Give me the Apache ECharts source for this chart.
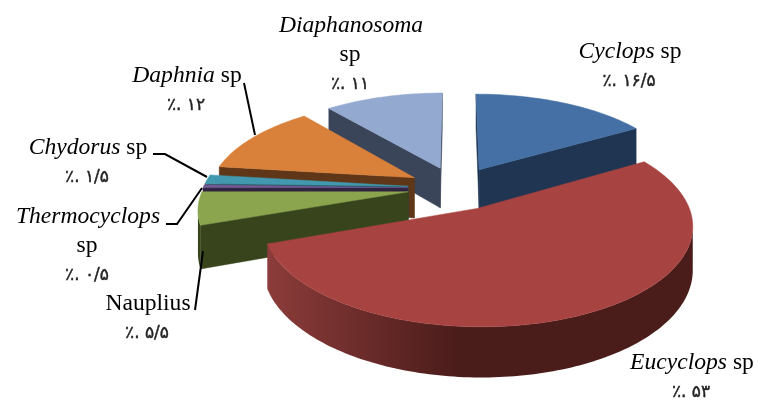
<!DOCTYPE html>
<html><head><meta charset="utf-8">
<style>html,body{margin:0;padding:0;background:#fff}#c{width:758px;height:402px}</style>
<script src="https://cdn.jsdelivr.net/npm/echarts@6/dist/echarts.min.js"></script>
</head><body><div id="c"></div>
<script>
const species = ['Cyclops','Eucyclops','Nauplius','Thermocyclops','Chydorus','Daphnia','Diaphanosoma'];
const percent = [16.5,53,5.5,0.5,1.5,12,11];
const percentText = ['٪. ۱۶/۵','٪. ۵۳','٪. ۵/۵','٪. ۰/۵','٪. ۱/۵','٪. ۱۲','٪. ۱۱'];

// styling and projection (separate from the data)
const topColors  = ['#4570a5','#a74341','#8aa54e','#71588f','#4198af','#d9813a','#93a9cf'];
const wallColors = ['#1f3552','#4a1c1a','#37441c','#2f2340','#235a68','#5f3718','#3a4559'];
const wallLight  = ['#1f3552','#8c3c3a','#37441c','#2f2340','#235a68','#5f3718','#3a4559'];
const drawOrder  = [6,0,5,4,3,2,1];
const P = {cx:456, cy:188, a:205, b:92.7, p:0.157, e:0.235, d:41};

const total = percent.reduce((s,v)=>s+v,0);
let acc = 0;
const slices = percent.map((v,i)=>{const s=acc/total*2*Math.PI; acc+=v; return {i,s,t:acc/total*2*Math.PI};});

function project(u,v,down){
  const s = 1/(1-P.p*v);
  return [P.cx+P.a*u*s, P.cy+P.b*v*s+(down?P.d*s:0)];
}
function area(pts){let A=0;pts.forEach((q,k)=>{const r=pts[(k+1)%pts.length];A+=q[0]*r[1]-r[0]*q[1];});return A/2;}

function renderItem(params){
  const sl = slices[drawOrder[params.dataIndex]];
  const mid=(sl.s+sl.t)/2, ox=P.e*Math.sin(mid), oy=-P.e*Math.cos(mid);
  const at=(th,r)=>[ox+r*Math.sin(th), oy-r*Math.cos(th)];
  const top=at(0,0);
  const n=Math.max(2,Math.ceil((sl.t-sl.s)/0.02));
  const arc=[];for(let k=0;k<=n;k++)arc.push(at(sl.s+(sl.t-sl.s)*k/n,1));
  const children=[];
  const poly=(points,fill)=>children.push({type:'polygon',shape:{points},style:{fill,stroke:fill,lineWidth:0.5}});
  const wall=topColors[sl.i];
  // radial faces, culled by screen orientation
  const A=arc[0],B=arc[n];
  const q1=[project(top[0],top[1]),project(A[0],A[1]),project(A[0],A[1],1),project(top[0],top[1],1)];
  const q2=[project(B[0],B[1]),project(top[0],top[1]),project(top[0],top[1],1),project(B[0],B[1],1)];
  if(area(q1)<0)poly(q1,wallColors[sl.i]);
  if(area(q2)<0)poly(q2,wallColors[sl.i]);
  // outer wall: visible runs only
  let run=[];
  const flush=()=>{
    if(!run.length)return;
    const up=run.map(c=>project(c[0],c[1]));
    const dn=run.map(c=>project(c[0],c[1],1)).reverse();
    const fill=new echarts.graphic.LinearGradient(0,0,1,0,[
      {offset:0,color:wallLight[sl.i]},{offset:0.45,color:wallColors[sl.i]},{offset:1,color:wallColors[sl.i]}]);
    children.push({type:'polygon',shape:{points:up.concat(dn)},style:{fill}});
    run=[];
  };
  for(let k=0;k<n;k++){
    const a=arc[k],b=arc[k+1];
    const q=[project(a[0],a[1]),project(a[0],a[1],1),project(b[0],b[1],1),project(b[0],b[1])];
    if(area(q)>0){ if(!run.length)run.push(a); run.push(b);} else flush();
  }
  flush();
  // top face
  poly([project(top[0],top[1])].concat(arc.map(c=>project(c[0],c[1]))),wall);
  return {type:'group',children};
}

const labels = [
 {x:630,y:52,i:0,rows:[['i','Cyclops'],['n',' sp']]},
 {x:692,y:363,i:1,rows:[['i','Eucyclops'],['n',' sp']]},
 {x:148,y:304,i:2,rows:[['n','Nauplius']]},
 {x:88,y:217,i:3,rows:[['i','Thermocyclops']],extra:'sp'},
 {x:88,y:148,i:4,rows:[['i','Chydorus'],['n',' sp']]},
 {x:187,y:76,i:5,rows:[['i','Daphnia'],['n',' sp']]},
 {x:351,y:26,i:6,rows:[['i','Diaphanosoma']],extra:'sp'}
];
const leaders = [
 [[244,83],[255,135]],
 [[153,154],[165,154],[207,177]],
 [[166,224],[177,224],[202,188]],
 [[195,310],[203,251]]
];
const rich={i:{fontFamily:'Liberation Serif',fontStyle:'italic',fontSize:23.6,color:'#111'},n:{fontFamily:'Liberation Serif',fontSize:23.6,color:'#111'}};
const graphics=[];
leaders.forEach(pts=>graphics.push({type:'polyline',shape:{points:pts},style:{stroke:'#000',lineWidth:2,fill:null},z:5}));
labels.forEach(l=>{
  const t=l.rows.map(r=>'{'+r[0]+'|'+r[1]+'}').join('');
  graphics.push({type:'text',x:l.x,y:l.y,style:{text:t,rich,align:'center',verticalAlign:'middle'},z:6});
  let y=l.y+29;
  if(l.extra){graphics.push({type:'text',x:l.x-1,y,style:{text:'{n|'+l.extra+'}',rich,align:'center',verticalAlign:'middle'},z:6});y+=29;}
  graphics.push({type:'text',x:l.x-1,y:y+1,style:{text:percentText[l.i],fontFamily:'DejaVu Sans',fontSize:17,fill:'#222',stroke:'#222',lineWidth:0.4,align:'center',verticalAlign:'middle'},z:6});
});

const chart=echarts.init(document.getElementById('c'),null,{renderer:'canvas'});
chart.setOption({
  animation:false,
  backgroundColor:'#fff',
  graphic:graphics,
  series:[{type:'custom',coordinateSystem:'none',renderItem,
    data:drawOrder.map(i=>({name:species[i],value:percent[i]}))}]
});
</script></body></html>
